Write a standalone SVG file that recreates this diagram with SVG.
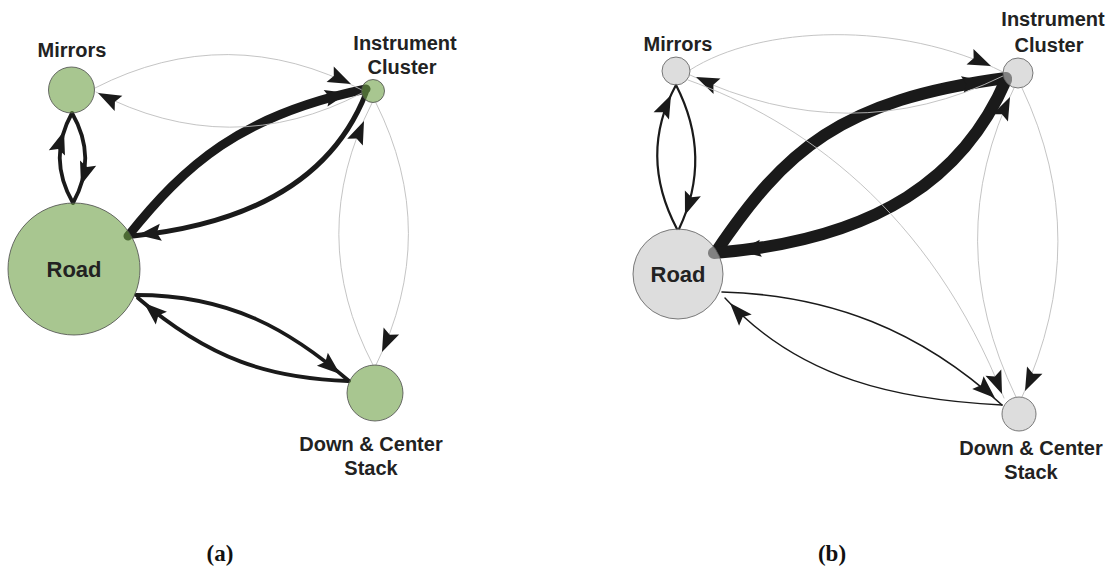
<svg xmlns="http://www.w3.org/2000/svg" xmlns:xlink="http://www.w3.org/1999/xlink" width="1115" height="569" viewBox="0 0 1115 569">
  <defs>
    <!-- shared arrowhead, tip at origin pointing along +x -->
    <path id="ah" d="M0,0 L-23,-8.5 L-19,0 L-23,8.5 Z" fill="#1a1a1a"/>
    <style>
      .e { fill: none; stroke-linecap: round; }
      .blk { stroke: #1a1a1a; }
      .gry { stroke: #bdbdbd; stroke-width: 0.9; }
      .nodeA { fill: #6ea046; fill-opacity: 0.6; stroke: #4a4a4a; stroke-width: 0.8; }
      .nodeB { fill: #c6c6c6; fill-opacity: 0.6; stroke: #5a5a5a; stroke-width: 0.8; }
      .lbl { font-family: "Liberation Sans", Arial, sans-serif; font-weight: bold; font-size: 20px; fill: #222; text-anchor: middle; }
      .big { font-size: 22px; }
      .cap { font-family: "Liberation Serif", "Times New Roman", serif; font-weight: bold; font-size: 23px; fill: #111; text-anchor: middle; }
    </style>
  </defs>

  <!-- ===== Panel (a) ===== -->
  <g id="edges-a">
    <!-- Road <-> Mirrors -->
    <path class="e blk" stroke-width="3.8" d="M73,203 Q47,158 72,113"/>
    <use href="#ah" transform="translate(64,131) rotate(-72)"/>
    <path class="e blk" stroke-width="3.8" d="M72,113 Q98,158 73,203"/>
    <use href="#ah" transform="translate(81,185) rotate(108)"/>
    <!-- Road <-> Instrument Cluster -->
    <path class="e blk" stroke-width="9" d="M128,236 C185,165 240,115 366,89"/>
    <use href="#ah" transform="translate(348,93) rotate(-13)"/>
    <path class="e blk" stroke-width="5" d="M366,93 C330,185 240,225 133,236"/>
    <use href="#ah" transform="translate(138,235) rotate(173)"/>
    <!-- Mirrors <-> Instrument Cluster -->
    <path class="e gry" d="M95,88 Q228,20 362,90"/>
    <use href="#ah" transform="translate(351,84) rotate(25)"/>
    <path class="e gry" d="M362,93 Q230,162 96,92"/>
    <use href="#ah" transform="translate(98,93) rotate(207)"/>
    <!-- Instrument Cluster <-> Down & Center Stack -->
    <path class="e gry" d="M376,103 Q441,233 376,365"/>
    <use href="#ah" transform="translate(382,352) rotate(114)"/>
    <path class="e gry" d="M373,365 Q305,235 372,103"/>
    <use href="#ah" transform="translate(364,121) rotate(-67)"/>
    <!-- Road <-> Down & Center Stack -->
    <path class="e blk" stroke-width="3.8" d="M136,295 C230,295 290,330 349,381"/>
    <use href="#ah" transform="translate(340,374) rotate(40)"/>
    <path class="e blk" stroke-width="3.8" d="M348,381 C270,378 210,360 138,298"/>
    <use href="#ah" transform="translate(144,303) rotate(221)"/>
  </g>

  <g id="a-mirrors">
    <circle class="nodeA" cx="71.5" cy="90" r="23"/>
    <text class="lbl" x="72" y="57">Mirrors</text>
  </g>
  <g id="a-instrument-cluster">
    <circle class="nodeA" cx="373" cy="91" r="11.5"/>
    <text class="lbl" x="405" y="50">Instrument</text>
    <text class="lbl" x="402" y="74">Cluster</text>
  </g>
  <g id="a-road">
    <circle class="nodeA" cx="74" cy="269" r="66"/>
    <text class="lbl big" x="74" y="277">Road</text>
  </g>
  <g id="a-down-center-stack">
    <circle class="nodeA" cx="375" cy="393" r="28"/>
    <text class="lbl" x="371" y="451">Down &amp; Center</text>
    <text class="lbl" x="371" y="475">Stack</text>
  </g>

  <!-- ===== Panel (b) ===== -->
  <g id="edges-b">
    <!-- Road <-> Mirrors -->
    <path class="e blk" stroke-width="2.2" d="M677,229 Q638,155 676,85"/>
    <use href="#ah" transform="translate(671,95) rotate(-65)"/>
    <path class="e blk" stroke-width="2.2" d="M676,85 Q713,157 679,229"/>
    <use href="#ah" transform="translate(685,215) rotate(110)"/>
    <!-- Road <-> Instrument Cluster -->
    <path class="e blk" stroke-width="12" d="M716,252 C785,150 840,100 1006,78"/>
    <use href="#ah" transform="translate(985,81) rotate(-9)"/>
    <path class="e blk" stroke-width="12" d="M1006,80 C965,175 880,240 714,253"/>
    <use href="#ah" transform="translate(738,251) rotate(173)"/>
    <!-- Mirrors <-> Instrument Cluster -->
    <path class="e gry" d="M690,70 C760,25 900,20 1003,72"/>
    <use href="#ah" transform="translate(991,66) rotate(24)"/>
    <path class="e gry" d="M1003,76 Q850,151 690,75"/>
    <use href="#ah" transform="translate(696,77) rotate(204)"/>
    <!-- Mirrors -> Down & Center Stack -->
    <path class="e gry" d="M688,80 C800,120 930,210 1004,398"/>
    <use href="#ah" transform="translate(1002,394) rotate(68)"/>
    <!-- Instrument Cluster <-> Down & Center Stack -->
    <path class="e gry" d="M1022,88 Q1094,240 1022,397"/>
    <use href="#ah" transform="translate(1025,391) rotate(115)"/>
    <path class="e gry" d="M1016,397 Q940,240 1014,88"/>
    <use href="#ah" transform="translate(1010,97) rotate(-65)"/>
    <!-- Road <-> Down & Center Stack -->
    <path class="e blk" stroke-width="1.6" d="M722,292 C830,295 920,330 1002,405"/>
    <use href="#ah" transform="translate(995,398) rotate(42)"/>
    <path class="e blk" stroke-width="1.4" d="M1002,405 C900,400 800,380 725,298"/>
    <use href="#ah" transform="translate(730,303) rotate(228)"/>
  </g>

  <g id="b-mirrors">
    <circle class="nodeB" cx="676" cy="71" r="14"/>
    <text class="lbl" x="678" y="51">Mirrors</text>
  </g>
  <g id="b-instrument-cluster">
    <circle class="nodeB" cx="1018" cy="73" r="15"/>
    <text class="lbl" x="1053" y="26">Instrument</text>
    <text class="lbl" x="1049" y="52">Cluster</text>
  </g>
  <g id="b-road">
    <circle class="nodeB" cx="678" cy="274" r="45"/>
    <text class="lbl big" x="678" y="282">Road</text>
  </g>
  <g id="b-down-center-stack">
    <circle class="nodeB" cx="1019" cy="414" r="17"/>
    <text class="lbl" x="1031" y="455">Down &amp; Center</text>
    <text class="lbl" x="1031" y="479">Stack</text>
  </g>

  <!-- panel captions -->
  <text class="cap" x="220" y="561">(a)</text>
  <text class="cap" x="832" y="561">(b)</text>
</svg>
